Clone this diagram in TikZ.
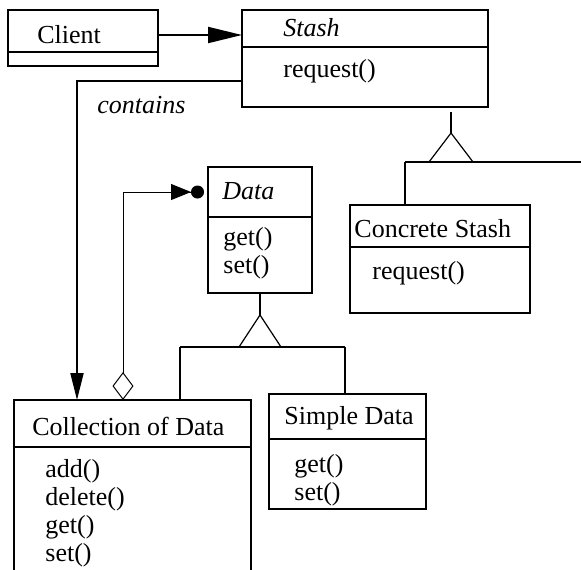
\documentclass[tikz,border=0pt]{standalone}
\usepackage{fontspec}
\setmainfont{Liberation Serif}
\usepackage{tikz}
\usetikzlibrary{positioning, arrows.meta}

\begin{document}
\begin{tikzpicture}[x=0.5pt,y=-0.5pt,font=\fontsize{13}{15}\selectfont]
	\tikzstyle{part}=[draw=black,line width=1pt,inner sep=0pt,outer sep=0pt,anchor=north west]
	\tikzstyle{txt}=[inner sep=0pt,anchor=base west]
	\tikzstyle{thin}=[line width=0.6pt]
	\tikzstyle{drop}=[line width=1pt]
	\clip (0,0) rectangle (581,569);

	% classes
	\node[part,minimum width=75pt,minimum height=21pt](client) at (8,10) {};
	\node[part,minimum width=75pt,minimum height=7pt](clientops) at (client.south west) {};
	\node[txt](clientname) at (37,43) {Client};

	\node[part,minimum width=123pt,minimum height=18.5pt](stash) at (242,10) {};
	\node[part,minimum width=123pt,minimum height=30pt](stashops) at (stash.south west) {};
	\node[txt](stashname) at (283,36) {\itshape Stash};
	\node[txt](stashreq) at (283,77) {request()};

	\node[part,minimum width=90pt,minimum height=21pt](concrete) at (350,205) {};
	\node[part,minimum width=90pt,minimum height=33pt](concreteops) at (concrete.south west) {};
	\node[txt](concretename) at (354,237) {Concrete Stash};
	\node[txt](concretereq) at (372,279) {request()};

	\node[part,minimum width=52pt,minimum height=25pt](data) at (208,167) {};
	\node[part,minimum width=52pt,minimum height=38pt](dataops) at (data.south west) {};
	\node[txt](dataname) at (222,199) {\itshape Data};
	\node[txt](dataget) at (223,245) {get()};
	\node[txt](dataset) at (223,273) {set()};

	\node[part,minimum width=118.5pt,minimum height=23.5pt](collection) at (14,400) {};
	\node[part,minimum width=118.5pt,minimum height=100pt](collectionops) at (collection.south west) {};
	\node[txt](collectionname) at (32,435) {Collection of Data};
	\node[txt](collectionadd) at (45,477) {add()};
	\node[txt](collectiondel) at (45,505) {delete()};
	\node[txt](collectionget) at (45,533) {get()};
	\node[txt](collectionset) at (45,561) {set()};

	\node[part,minimum width=78.5pt,minimum height=22.5pt](simple) at (269,394) {};
	\node[part,minimum width=78.5pt,minimum height=35pt](simpleops) at (simple.south west) {};
	\node[txt](simplename) at (284,424) {Simple Data};
	\node[txt](simpleget) at (294,472) {get()};
	\node[txt](simpleset) at (294,500) {set()};

	% client uses stash
	\coordinate (cs) at ([yshift=-2pt]client.east);
	\draw[drop,-{Triangle[length=17pt,width=8pt]}] (cs) -- (cs -| stash.west);

	% stash contains a collection
	\draw[drop,-{Triangle[length=13.5pt,width=6.5pt]}] ([yshift=-2pt]stashops.west) -| ([xshift=31.5pt]collection.north west);
	\node[txt](contains) at (97,113) {\itshape contains};

	% stash subclasses
	\coordinate (stashtip) at (451,133);
	\coordinate (stashbar) at (405,162);
	\draw[thin] ([xshift=104.5pt,yshift=-2.5pt]stashops.south west) -- (stashtip);
	\draw[thin] (stashtip) -- ++(-22,29) -- ++(44,0) -- cycle;
	\draw[thin] (stashbar) -- (600,162);
	\draw[drop] (stashbar) -- (stashbar |- concrete.north);

	% data subclasses
	\coordinate (datatip) at (dataops.south |- 0,315);
	\coordinate (databar) at (180,347);
	\coordinate (simplebar) at (345,347);
	\draw[thin] (dataops.south) -- (datatip);
	\draw[thin] (datatip) -- ++(-21,32) -- ++(42,0) -- cycle;
	\draw[thin] (databar) -- (simplebar);
	\draw[drop] (databar) -- (databar |- collection.north);
	\draw[drop] (simplebar) -- (simplebar |- simple.north);

	% collection holds data
	\draw[line width=0.5pt,{Diamond[open,length=14pt,width=10.5pt]}-{Triangle[length=10pt,width=8pt]Circle[length=6.5pt]},shorten >=2pt] ([xshift=54.5pt]collection.north west) |- (data.west);
\end{tikzpicture}
\end{document}
